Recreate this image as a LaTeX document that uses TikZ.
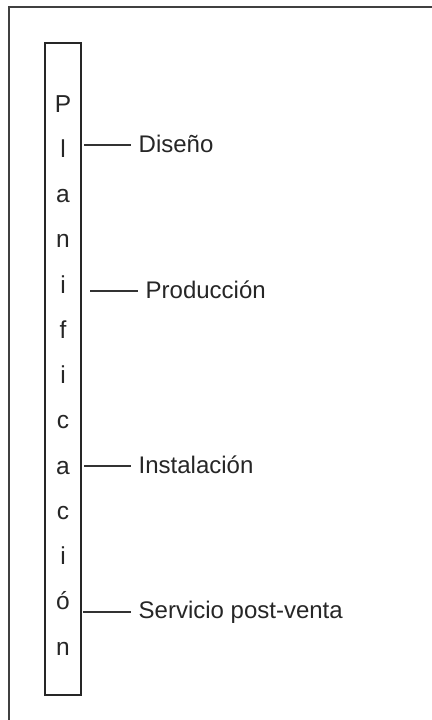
\documentclass[tikz,border=0pt]{standalone}
\usepackage{fontspec}
\setmainfont{Liberation Sans}
\begin{document}
\begin{tikzpicture}[x=1pt,y=-1pt,
  frameline/.style={line width=1.4pt,draw=black!75},
  boxline/.style={line width=1.1pt,draw=black!85},
  letter/.style={anchor=base,inner sep=0pt,font=\fontsize{24.5}{28}\selectfont,text=black!85},
  label/.style={anchor=base west,inner xsep=1.5pt,inner ysep=0pt,font=\fontsize{24}{28}\selectfont,text=black!85},
  conn/.style={line width=1.1pt,draw=black!80,shorten >=6pt}]
\useasboundingbox (0,0) rectangle (431,720);
\fill[white] (0,0) rectangle (431,720);
\draw[frameline] (9,721) -- (9,7) -- (432,7);
\node[boxline,draw,minimum width=36pt,minimum height=652pt,inner sep=0pt] (box) at (63,369) {};
\foreach \ch [count=\k from 0] in {P,l,a,n,i,f,i,c,a,c,i,ó,n}{
  \node[letter] (L\k) at (63,{112+45.25*\k}) {\ch};
}
\node[label] (d1) at (137,152) {Diseño};
\node[label] (d2) at (144,298) {Producción};
\node[label] (d3) at (137,473) {Instalación};
\node[label] (d4) at (137,618) {Servicio post-venta};
\coordinate (k1) at (84,145);
\coordinate (k2) at (90,291);
\coordinate (k3) at (84,466);
\coordinate (k4) at (83,612);
\draw[conn] (k1) -- (k1 -| d1.west);
\draw[conn] (k2) -- (k2 -| d2.west);
\draw[conn] (k3) -- (k3 -| d3.west);
\draw[conn] (k4) -- (k4 -| d4.west);
\end{tikzpicture}
\end{document}
